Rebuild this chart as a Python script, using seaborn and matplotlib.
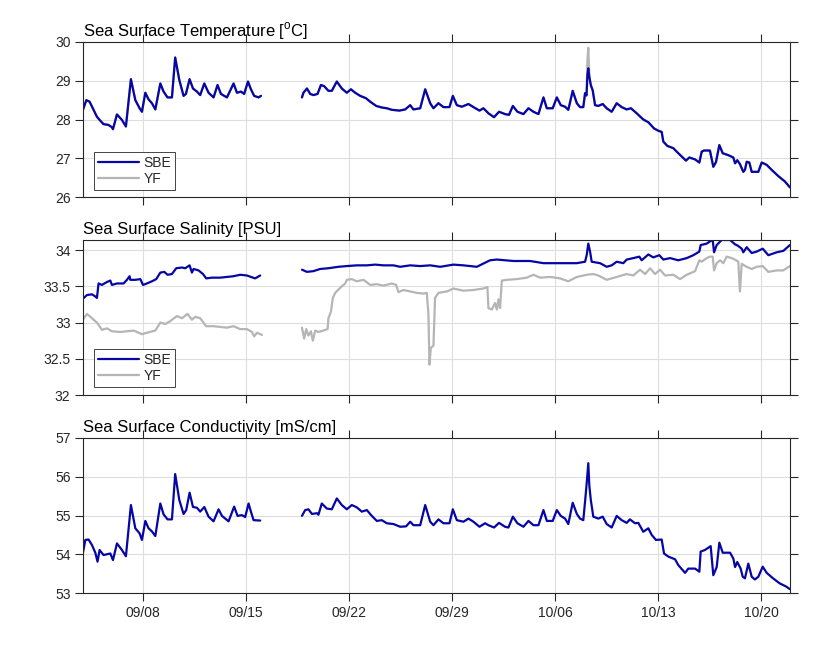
import numpy as np
import pandas as pd
import matplotlib
matplotlib.use("Agg")
import matplotlib.pyplot as plt
import matplotlib.dates as mdates
from matplotlib.lines import Line2D
from matplotlib.ticker import FuncFormatter, MultipleLocator
import seaborn as sns

# time axis: day counted from 1 Sep 2023 (1.0 = 09/01 00:00), NaN marks the data gap
temp_days = [3.90, 4.13, 4.35, 4.62, 4.85, 5.03, 5.30, 5.64, 5.87, 5.94, 6.21, 6.55, 6.82, 7.16, 7.46,
             7.75, 7.91, 8.14, 8.36, 8.59, 8.82, 9.16, 9.38, 9.65, 9.95, 10.17, 10.45, 10.74, 10.90,
             11.15, 11.38, 11.65, 11.87, 12.15, 12.44, 12.78, 13.05, 13.28, 13.69, 14.14, 14.37,
             14.64, 14.86, 15.12, 15.32, 15.54, 15.84, 16.00, 17.00,
             18.79, 18.89, 19.13, 19.35, 19.57, 19.85, 20.08, 20.30, 20.59, 20.82, 21.16, 21.50,
             21.84, 22.12, 22.41, 22.75, 23.14, 23.43, 23.84, 24.22, 24.56, 24.90, 25.42, 25.81,
             26.15, 26.37, 26.83, 27.17, 27.51, 27.73, 28.07, 28.41, 28.82, 29.05, 29.32, 29.66,
             30.11, 30.45, 30.86, 31.13, 31.47, 31.85, 32.19, 32.60, 32.87, 33.13, 33.44, 33.85,
             34.19, 34.53, 34.87, 35.21, 35.44, 35.84, 36.12, 36.39, 36.68, 36.90, 37.20, 37.48,
             37.70, 37.92, 38.04, 38.14, 38.20, 38.26, 38.33, 38.43, 38.56, 38.72, 38.94, 39.24,
             39.51, 39.85, 40.19, 40.53, 40.87, 41.16, 41.55, 42.00, 42.34, 42.73, 43.02, 43.25,
             43.36, 43.63, 44.04, 44.38, 44.90, 45.13, 45.52, 45.81, 45.97, 46.13, 46.53, 46.76,
             46.94, 47.17, 47.40, 47.78, 48.12, 48.24, 48.39, 48.57, 48.80, 48.91, 49.03, 49.21,
             49.37, 49.82, 50.05, 50.39, 50.73, 51.18, 51.63, 51.97]
sbe_temp = [28.25, 28.50, 28.46, 28.25, 28.07, 27.99, 27.88, 27.86, 27.80, 27.75, 28.13, 27.99, 27.82,
            29.04, 28.50, 28.29, 28.20, 28.69, 28.52, 28.42, 28.26, 28.93, 28.72, 28.57, 28.57, 29.60,
            29.02, 28.61, 28.66, 29.04, 28.80, 28.72, 28.63, 28.93, 28.69, 28.57, 28.89, 28.66, 28.57,
            28.93, 28.69, 28.72, 28.66, 28.98, 28.78, 28.61, 28.57, 28.61, np.nan,
            28.57, 28.69, 28.80, 28.66, 28.63, 28.66, 28.89, 28.86, 28.74, 28.74, 28.98, 28.80,
            28.69, 28.78, 28.69, 28.61, 28.55, 28.46, 28.35, 28.31, 28.29, 28.25, 28.23, 28.26,
            28.37, 28.26, 28.29, 28.78, 28.42, 28.29, 28.42, 28.32, 28.32, 28.61, 28.37, 28.33,
            28.40, 28.32, 28.23, 28.29, 28.16, 28.06, 28.20, 28.14, 28.12, 28.35, 28.20, 28.14,
            28.29, 28.20, 28.14, 28.57, 28.29, 28.29, 28.57, 28.37, 28.33, 28.25, 28.74, 28.42,
            28.32, 28.32, 28.68, 28.62, 29.15, 29.32, 29.10, 28.89, 28.75, 28.37, 28.35, 28.40,
            28.29, 28.20, 28.42, 28.32, 28.26, 28.29, 28.16, 28.00, 27.93, 27.77, 27.71, 27.68,
            27.43, 27.32, 27.26, 27.13, 26.94, 27.02, 26.97, 26.89, 27.17, 27.20, 27.20, 26.78,
            26.90, 27.34, 27.13, 27.08, 27.02, 26.87, 26.95, 26.85, 26.65, 26.70, 26.91, 26.89,
            26.65, 26.65, 26.89, 26.83, 26.70, 26.54, 26.40, 26.25]
# YF temperature lies under the SBE curve except for the spike on 10/08
yf_temp = list(sbe_temp)
yf_temp[temp_days.index(38.20)] = 29.55
yf_temp[temp_days.index(38.26)] = 29.85

sbe_sal_days = [3.90, 4.17, 4.51, 4.74, 4.85, 4.96, 5.19, 5.53, 5.76, 5.87, 6.21, 6.66, 6.89, 7.07, 7.12,
                7.46, 7.80, 7.98, 8.25, 8.59, 8.88, 9.16, 9.43, 9.65, 9.95, 10.24, 10.63, 10.85, 11.15,
                11.31, 11.42, 11.76, 12.06, 12.28, 12.67, 13.23, 13.69, 14.14, 14.59, 15.05, 15.32,
                15.61, 15.95, 17.00,
                18.79, 19.13, 19.57, 20.03, 20.59, 21.27, 21.84, 22.52, 23.20, 23.77, 24.33, 25.01,
                25.47, 26.15, 26.83, 27.51, 28.19, 29.09, 29.77, 30.68, 31.58, 32.04, 33.17, 34.30,
                35.21, 36.57, 37.48, 38.04, 38.15, 38.26, 38.38, 38.49, 39.06, 39.51, 39.85, 40.19,
                40.64, 40.87, 41.32, 41.73, 41.89, 42.34, 42.68, 43.09, 43.36, 43.82, 44.38, 44.95,
                45.40, 45.81, 45.90, 46.31, 46.53, 46.72, 46.81, 46.99, 47.33, 47.90, 48.24, 48.44,
                48.69, 48.80, 49.03, 49.37, 49.71, 50.12, 50.50, 51.07, 51.52, 51.97]
sbe_sal = [33.33, 33.38, 33.39, 33.36, 33.34, 33.54, 33.52, 33.56, 33.58, 33.52, 33.54, 33.54, 33.59,
           33.64, 33.59, 33.59, 33.60, 33.52, 33.54, 33.57, 33.60, 33.69, 33.70, 33.66, 33.67, 33.75,
           33.76, 33.75, 33.79, 33.69, 33.74, 33.72, 33.67, 33.61, 33.62, 33.62, 33.63, 33.64, 33.66,
           33.65, 33.63, 33.61, 33.65, np.nan,
           33.73, 33.70, 33.71, 33.74, 33.75, 33.77, 33.78, 33.79, 33.79, 33.80, 33.79, 33.79,
           33.77, 33.79, 33.78, 33.79, 33.77, 33.80, 33.79, 33.77, 33.86, 33.87, 33.85, 33.85,
           33.82, 33.82, 33.82, 33.84, 33.93, 34.09, 33.98, 33.84, 33.82, 33.77, 33.79, 33.84,
           33.82, 33.87, 33.89, 33.91, 33.86, 33.94, 33.90, 33.93, 33.87, 33.89, 33.86, 33.89,
           33.93, 33.98, 34.07, 34.09, 34.12, 34.14, 33.97, 34.07, 34.14, 34.14, 34.08, 34.06,
           34.02, 33.97, 34.04, 33.96, 33.98, 34.02, 33.93, 33.97, 33.99, 34.07]

yf_sal_days = [3.90, 4.17, 4.51, 4.85, 5.19, 5.53, 5.87, 6.44, 6.89, 7.34, 7.91, 8.25, 8.82, 9.16, 9.50,
               9.83, 10.29, 10.63, 11.01, 11.31, 11.53, 11.87, 12.28, 12.78, 13.23, 13.69, 14.14,
               14.59, 15.05, 15.39, 15.54, 15.73, 16.07, 17.00,
               18.79, 18.94, 19.08, 19.23, 19.40, 19.53, 19.69, 19.91, 20.25, 20.53, 20.59, 20.76,
               20.89, 21.05, 21.39, 21.73, 21.84, 22.18, 22.52, 22.97, 23.43, 23.88, 24.33, 24.90,
               25.19, 25.35, 25.69, 26.15, 26.60, 27.05, 27.28, 27.39, 27.46, 27.55, 27.73, 27.84,
               28.07, 28.64, 29.09, 29.77, 30.45, 31.13, 31.40, 31.47, 31.70, 31.92, 32.04, 32.15,
               32.26, 32.38, 32.72, 33.40, 34.08, 34.53, 34.98, 35.66, 36.34, 36.90, 37.48, 38.15,
               38.60, 38.94, 39.51, 40.19, 40.87, 41.32, 41.78, 42.12, 42.46, 42.80, 43.14, 43.48,
               44.04, 44.50, 44.95, 45.52, 45.81, 45.97, 46.31, 46.53, 46.72, 46.81, 46.99, 47.22,
               47.44, 47.67, 48.01, 48.31, 48.46, 48.57, 48.69, 49.03, 49.37, 49.71, 50.12, 50.50,
               51.07, 51.52, 51.97]
yf_sal = [33.04, 33.12, 33.06, 33.00, 32.90, 32.92, 32.88, 32.87, 32.88, 32.89, 32.84, 32.86, 32.89,
          33.00, 32.98, 33.02, 33.09, 33.06, 33.12, 33.04, 33.08, 33.06, 32.95, 32.95, 32.94, 32.93,
          32.95, 32.91, 32.91, 32.87, 32.81, 32.86, 32.83, np.nan,
          32.93, 32.78, 32.91, 32.82, 32.88, 32.75, 32.89, 32.87, 32.89, 32.91, 33.06, 33.15,
          33.34, 33.41, 33.48, 33.54, 33.59, 33.60, 33.57, 33.59, 33.52, 33.53, 33.51, 33.54,
          33.52, 33.42, 33.45, 33.43, 33.41, 33.40, 33.41, 33.11, 32.42, 32.65, 32.68, 33.34,
          33.41, 33.43, 33.47, 33.44, 33.45, 33.47, 33.49, 33.20, 33.18, 33.27, 33.18, 33.32,
          33.20, 33.58, 33.59, 33.60, 33.62, 33.66, 33.62, 33.63, 33.61, 33.57, 33.63, 33.66,
          33.67, 33.65, 33.59, 33.63, 33.67, 33.65, 33.73, 33.67, 33.75, 33.67, 33.73, 33.65,
          33.66, 33.60, 33.66, 33.71, 33.86, 33.84, 33.89, 33.91, 33.91, 33.72, 33.82, 33.86,
          33.82, 33.91, 33.89, 33.86, 33.84, 33.43, 33.81, 33.77, 33.74, 33.77, 33.78, 33.70,
          33.72, 33.72, 33.78]

cond_days = [3.90, 4.06, 4.28, 4.51, 4.74, 4.89, 5.03, 5.30, 5.76, 5.94, 6.21, 6.55, 6.82, 7.16, 7.46,
             7.75, 7.91, 8.14, 8.36, 8.59, 8.82, 9.16, 9.38, 9.65, 9.95, 10.17, 10.45, 10.74, 10.92,
             11.15, 11.38, 11.65, 11.87, 12.15, 12.44, 12.78, 13.12, 13.35, 13.80, 14.18, 14.41,
             14.71, 14.93, 15.16, 15.32, 15.50, 15.95, 17.00,
             18.79, 19.01, 19.23, 19.47, 19.81, 19.91, 20.14, 20.48, 20.82, 21.16, 21.50, 21.84,
             22.18, 22.52, 22.86, 23.20, 23.54, 23.88, 24.22, 24.56, 25.01, 25.47, 25.87, 26.15,
             26.37, 26.83, 27.17, 27.51, 27.73, 28.07, 28.41, 28.82, 29.05, 29.32, 29.77, 30.11,
             30.45, 30.86, 31.24, 31.47, 31.85, 32.19, 32.60, 32.83, 33.13, 33.44, 33.85, 34.19,
             34.53, 34.87, 35.21, 35.44, 35.84, 36.12, 36.39, 36.68, 36.90, 37.20, 37.48, 37.70,
             37.92, 38.04, 38.15, 38.26, 38.33, 38.43, 38.60, 38.94, 39.24, 39.51, 39.85, 40.19,
             40.53, 40.87, 41.09, 41.44, 41.66, 42.00, 42.34, 42.57, 42.86, 43.25, 43.41, 43.70,
             44.16, 44.38, 44.84, 45.06, 45.52, 45.81, 45.90, 46.19, 46.58, 46.76, 46.99, 47.17,
             47.40, 47.90, 48.12, 48.24, 48.39, 48.62, 48.76, 48.91, 49.14, 49.37, 49.59, 49.82,
             50.12, 50.39, 50.82, 51.27, 51.70, 51.97]
sbe_cond = [54.04, 54.37, 54.38, 54.24, 54.04, 53.81, 54.11, 53.98, 54.02, 53.85, 54.28, 54.11, 53.95,
            55.27, 54.67, 54.54, 54.37, 54.86, 54.67, 54.59, 54.47, 55.31, 55.03, 54.90, 54.90, 56.07,
            55.40, 55.04, 55.14, 55.59, 55.22, 55.20, 55.10, 55.22, 54.97, 54.85, 55.16, 54.99, 54.85,
            55.23, 54.99, 55.01, 54.96, 55.31, 55.10, 54.88, 54.87, np.nan,
            54.99, 55.14, 55.16, 55.04, 55.06, 55.02, 55.31, 55.18, 55.16, 55.44, 55.27, 55.16,
            55.27, 55.21, 55.10, 55.14, 54.99, 54.86, 54.88, 54.80, 54.78, 54.71, 54.72, 54.84,
            54.75, 54.75, 55.27, 54.84, 54.75, 54.90, 54.80, 54.80, 55.16, 54.88, 54.84, 54.92,
            54.84, 54.71, 54.80, 54.75, 54.69, 54.81, 54.71, 54.69, 54.97, 54.80, 54.71, 54.86,
            54.75, 54.75, 55.14, 54.86, 54.86, 55.14, 54.99, 54.92, 54.78, 55.33, 55.04, 54.92,
            54.88, 55.36, 55.83, 56.35, 55.77, 55.40, 54.97, 54.92, 54.97, 54.78, 54.69, 54.99,
            54.88, 54.81, 54.90, 54.80, 54.81, 54.58, 54.67, 54.50, 54.37, 54.38, 54.02, 53.94,
            53.87, 53.72, 53.52, 53.63, 53.63, 53.55, 54.07, 54.11, 54.21, 53.46, 53.67, 54.30,
            54.04, 54.04, 53.89, 53.67, 53.80, 53.63, 53.42, 53.38, 53.76, 53.42, 53.35, 53.42,
            53.68, 53.52, 53.38, 53.25, 53.17, 53.10]

tick_dates = ["2023-09-08", "2023-09-15", "2023-09-22", "2023-09-29",
              "2023-10-06", "2023-10-13", "2023-10-20"]

titles = ["Sea Surface Temperature [$^{\\mathrm{o}}$C]",
          "Sea Surface Salinity [PSU]",
          "Sea Surface Conductivity [mS/cm]"]

SBE_COLOR = "#0606a6"
YF_COLOR = "#b5b5b5"


def to_frame(days, values):
    t = pd.Timestamp("2023-09-01") + pd.to_timedelta(np.asarray(days) - 1.0, unit="D")
    df = pd.DataFrame({"time": t, "value": values})
    df["segment"] = df["value"].isna().cumsum()
    return df.dropna()


sns.set_style("white")
plt.rcParams["font.family"] = ["Liberation Sans", "DejaVu Sans"]
plt.rcParams["mathtext.fontset"] = "custom"
plt.rcParams["mathtext.rm"] = "Liberation Sans"

fig = plt.figure(figsize=(8.33, 6.46), dpi=100)
left, width, height = 0.0996, 0.8487, 0.240
bottoms = [0.695, 0.3885, 0.082]
axes = [fig.add_axes([left, b, width, height]) for b in bottoms]

panels = [
    [(temp_days, yf_temp, YF_COLOR), (temp_days, sbe_temp, SBE_COLOR)],
    [(yf_sal_days, yf_sal, YF_COLOR), (sbe_sal_days, sbe_sal, SBE_COLOR)],
    [(cond_days, sbe_cond, SBE_COLOR)],
]
ylims = [(26, 30), (32, 34.14), (53, 57)]
ysteps = [1, 0.5, 1]

x0 = pd.Timestamp("2023-09-01") + pd.Timedelta(days=temp_days[0] - 1.0)
x1 = pd.Timestamp("2023-09-01") + pd.Timedelta(days=temp_days[-1] - 1.0)
ticks = pd.to_datetime(tick_dates)

for ax, series, title, ylim, ystep in zip(axes, panels, titles, ylims, ysteps):
    for days, vals, col in series:
        df = to_frame(days, vals)
        sns.lineplot(data=df, x="time", y="value", units="segment", estimator=None,
                     color=col, linewidth=1.6, ax=ax)
    ax.set_xlim(x0, x1)
    ax.set_ylim(*ylim)
    ax.yaxis.set_major_locator(MultipleLocator(ystep))
    ax.yaxis.set_major_formatter(FuncFormatter(lambda v, p: f"{v:g}"))
    ax.set_xticks(ticks)
    ax.xaxis.set_major_formatter(mdates.DateFormatter("%m/%d"))
    ax.set_xlabel("")
    ax.set_ylabel("")
    ax.grid(True, color="#dedede", linewidth=0.8)
    ax.set_axisbelow(True)
    for s in ax.spines.values():
        s.set_color("#262626")
        s.set_linewidth(0.8)
    ax.tick_params(direction="out", length=5.5, width=0.8, color="#262626",
                   labelsize=10, labelcolor="#262626", top=True, right=True,
                   bottom=True, left=True)
    ax.set_title(title, loc="left", fontsize=12, pad=4, color="#000000")

for ax in axes[:2]:
    ax.tick_params(labelbottom=False)

for ax, yb in zip(axes[:2], [0.045, 0.05]):
    handles = [Line2D([], [], color=SBE_COLOR, lw=1.6), Line2D([], [], color=YF_COLOR, lw=1.6)]
    leg = ax.legend(handles, ["SBE", "YF"], loc="lower left", bbox_to_anchor=(0.015, yb),
                    borderaxespad=0, fontsize=10, frameon=True, fancybox=False,
                    framealpha=1, edgecolor="#262626", handlelength=3.0,
                    handletextpad=0.3, labelspacing=0.15, borderpad=0.3)
    leg.get_frame().set_linewidth(0.6)

fig.savefig("out.png", dpi=100)
